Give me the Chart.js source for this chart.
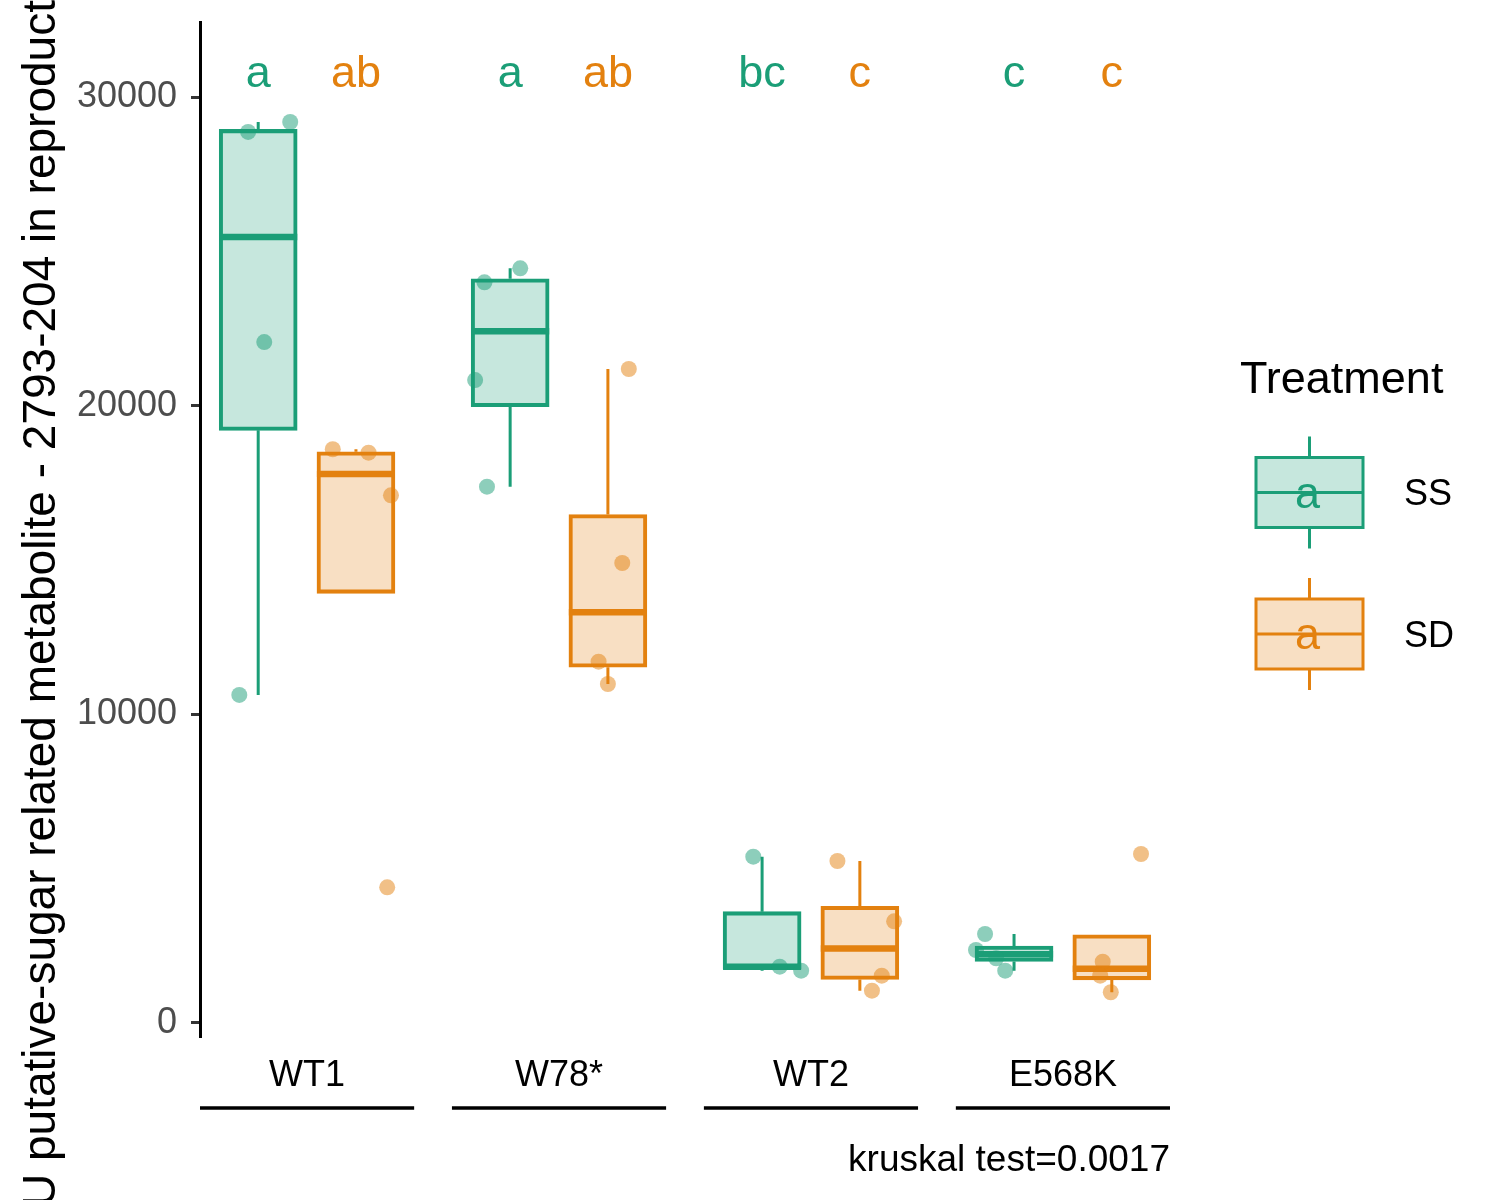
<!DOCTYPE html>
<html>
<head>
<meta charset="utf-8">
<script src="https://cdn.jsdelivr.net/npm/chart.js@4.4.1/dist/chart.umd.min.js"></script>
<style>
  html, body { margin: 0; padding: 0; background: #fff; }
  #wrap { width: 1500px; height: 1200px; }
</style>
</head>
<body>
<div id="wrap"><canvas id="chart"></canvas></div>
<script>
// ── Data ──
const genotypes = ['WT1', 'W78*', 'WT2', 'E568K'];
const treatments = ['SS', 'SD'];
const yTicks = [0, 10000, 20000, 30000];
const yTitle = 'AU putative-sugar related metabolite - 2793-204 in reproductive tissue';
const testLabel = 'kruskal test=0.0017';
const legendTitle = 'Treatment';

const ssLetters = ['a', 'a', 'bc', 'c'];
const sdLetters = ['ab', 'ab', 'c', 'c'];

// box stats (whisker low, q1, median, q3, whisker high)
const ssLow = [10630, 17375, 1695, 1695];
const ssQ1 = [19200, 19966, 1760, 1996];
const ssMed = [25465, 22413, 1825, 2230];
const ssQ3 = [28950, 24110, 3606, 2494];
const ssHigh = [29190, 24450, 5388, 2883];

const sdLow = [13921, 10983, 1047, 995];
const sdQ1 = [13921, 11525, 1411, 1398];
const sdMed = [17786, 13304, 2414, 1760];
const sdQ3 = [18504, 16474, 3783, 2859];
const sdHigh = [18587, 21188, 5248, 2859];

// individual samples and their jitter (x units, relative to box)
const ssPoints = [[28870, 29190, 22060, 10630], [23997, 24450, 20830, 17375], [5388, 1825, 1695], [2883, 2365, 2096, 1695]];
const ssJitter = [[-0.04, 0.127, 0.024, -0.075], [-0.102, 0.04, -0.139, -0.092], [-0.035, 0.07, 0.155], [-0.115, -0.151, -0.071, -0.035]];
const sdPoints = [[18587, 18477, 17096, 4396], [21188, 14903, 11705, 10983], [5248, 3295, 1533, 1047], [5475, 1987, 1533, 995]];
const sdJitter = [[-0.092, 0.05, 0.139, 0.124], [0.083, 0.057, -0.037, 0], [-0.089, 0.136, 0.087, 0.048], [0.116, -0.036, -0.046, -0.004]];

// ── Styling ──
const FONT = "'Liberation Sans', Arial, Helvetica, sans-serif";
const COL = { SS: '#1B9E77', SD: '#E3810F' };
const FILL = { SS: 'rgba(27,158,119,0.25)', SD: 'rgba(227,129,15,0.25)' };
const DOT = { SS: 'rgba(27,158,119,0.5)', SD: 'rgba(227,129,15,0.5)' };
const dodge = { SS: -0.194, SD: 0.194 };
const halfBox = 0.155;

Chart.defaults.font.family = FONT;

const groups = {
  SS: { low: ssLow, q1: ssQ1, med: ssMed, q3: ssQ3, high: ssHigh, pts: ssPoints, jit: ssJitter, letters: ssLetters },
  SD: { low: sdLow, q1: sdQ1, med: sdMed, q3: sdQ3, high: sdHigh, pts: sdPoints, jit: sdJitter, letters: sdLetters },
};

const datasets = [];
treatments.forEach(t => {
  const g = groups[t];
  const cx = i => i + 1 + dodge[t];
  datasets.push({
    type: 'line', label: t + ' whiskers', order: 5,
    data: genotypes.flatMap((_, i) => [
      { x: cx(i), y: g.q3[i] }, { x: cx(i), y: g.high[i] }, { x: cx(i), y: null },
      { x: cx(i), y: g.q1[i] }, { x: cx(i), y: g.low[i] }, { x: cx(i), y: null },
    ]),
    borderColor: COL[t], borderWidth: 3, pointRadius: 0, spanGaps: false,
  });
  datasets.push({
    type: 'bar', label: t, order: 4,
    data: genotypes.map((_, i) => ({ x: cx(i), y: [g.q1[i], g.q3[i]] })),
    backgroundColor: FILL[t], borderColor: COL[t], borderWidth: 3.4,
    borderSkipped: false, barThickness: 78, grouped: false,
  });
  datasets.push({
    type: 'line', label: t + ' median', order: 3,
    data: genotypes.flatMap((_, i) => [
      { x: cx(i) - halfBox, y: g.med[i] }, { x: cx(i) + halfBox, y: g.med[i] }, { x: cx(i), y: null },
    ]),
    borderColor: COL[t], borderWidth: 6.5, pointRadius: 0, spanGaps: false,
  });
  datasets.push({
    type: 'scatter', label: t + ' samples', order: 1,
    data: g.pts.flatMap((vals, i) => vals.map((v, j) => ({ x: cx(i) + g.jit[i][j], y: v }))),
    pointRadius: 8, pointBackgroundColor: DOT[t], pointBorderWidth: 0, pointHoverRadius: 8,
  });
});

// ── Extra drawing: letters, brackets, y title, legend ──
const decorations = {
  id: 'decorations',
  afterDraw(chart) {
    const { ctx, chartArea, scales: { x, y } } = chart;
    ctx.save();

    // significance letters
    ctx.font = '45px ' + FONT;
    ctx.textAlign = 'center';
    ctx.textBaseline = 'middle';
    treatments.forEach(t => {
      ctx.fillStyle = COL[t];
      groups[t].letters.forEach((txt, i) => {
        ctx.fillText(txt, x.getPixelForValue(i + 1 + dodge[t]), y.getPixelForValue(30730));
      });
    });

    // genotype underlines
    ctx.strokeStyle = '#000';
    ctx.lineWidth = 3.5;
    genotypes.forEach((_, i) => {
      ctx.beginPath();
      ctx.moveTo(x.getPixelForValue(i + 1 - 0.425), x.top + 71);
      ctx.lineTo(x.getPixelForValue(i + 1 + 0.425), x.top + 71);
      ctx.stroke();
    });

    // y axis title (runs off the canvas like the original)
    ctx.font = '46px ' + FONT;
    ctx.fillStyle = '#000';
    ctx.textAlign = 'left';
    ctx.textBaseline = 'alphabetic';
    const startY = 1207 + ctx.measureText('A').width;
    ctx.save();
    ctx.translate(55, startY);
    ctx.rotate(-Math.PI / 2);
    ctx.fillText(yTitle, 0, 0);
    ctx.restore();

    // legend
    const lx = chartArea.right + 86;
    ctx.font = '45px ' + FONT;
    ctx.textBaseline = 'middle';
    ctx.fillText(legendTitle, chartArea.right + 70, 381);
    treatments.forEach((t, k) => {
      const cy = 492.5 + k * 141.5;
      const mx = lx + 53.5;
      ctx.strokeStyle = COL[t];
      ctx.lineWidth = 3;
      ctx.beginPath();
      ctx.moveTo(mx, cy - 56); ctx.lineTo(mx, cy - 35);
      ctx.moveTo(mx, cy + 35); ctx.lineTo(mx, cy + 56);
      ctx.stroke();
      ctx.fillStyle = FILL[t];
      ctx.fillRect(lx, cy - 35, 107, 70);
      ctx.strokeRect(lx, cy - 35, 107, 70);
      ctx.beginPath();
      ctx.moveTo(lx, cy); ctx.lineTo(lx + 107, cy);
      ctx.stroke();
      ctx.fillStyle = COL[t];
      ctx.font = '45px ' + FONT;
      ctx.textAlign = 'center';
      ctx.fillText('a', mx - 2, cy + 3);
      ctx.fillStyle = '#000';
      ctx.font = '36px ' + FONT;
      ctx.textAlign = 'left';
      ctx.fillText(t, lx + 148, cy + 3);
    });
    ctx.restore();
  }
};

new Chart(document.getElementById('chart'), {
  type: 'bar',
  data: { datasets },
  options: {
    responsive: true,
    maintainAspectRatio: false,
    animation: false,
    events: [],
    layout: { padding: { top: 22, right: 330, bottom: 0, left: 0 } },
    plugins: { legend: { display: false }, tooltip: { enabled: false } },
    scales: {
      x: {
        type: 'linear', min: 0.575, max: 4.425, offset: false,
        grid: { display: false, drawTicks: false },
        border: { display: false },
        afterBuildTicks: s => { s.ticks = genotypes.map((_, i) => ({ value: i + 1 })); },
        afterFit: s => { s.height = 163; s.paddingLeft = 0; s.paddingRight = 0; },
        ticks: {
          autoSkip: false, maxRotation: 0, padding: 17, color: '#000',
          font: { size: 36 },
          callback: v => genotypes[v - 1],
        },
        title: {
          display: true, text: testLabel, align: 'end', color: '#000',
          font: { size: 37 }, padding: { top: 0, bottom: 17 },
        },
      },
      y: {
        type: 'linear', min: -454, max: 32430,
        grid: { drawOnChartArea: false, drawTicks: true, tickLength: 9, tickColor: '#333', tickWidth: 3 },
        border: { display: true, color: '#000', width: 3 },
        afterBuildTicks: s => { s.ticks = yTicks.map(v => ({ value: v })); },
        afterFit: s => { s.width = 200; s.paddingTop = 0; s.paddingBottom = 0; },
        ticks: { padding: 14, color: '#4D4D4D', font: { size: 36, lineHeight: 1.1 }, callback: v => String(v) },
      },
    },
  },
  plugins: [decorations],
});
</script>
</body>
</html>
